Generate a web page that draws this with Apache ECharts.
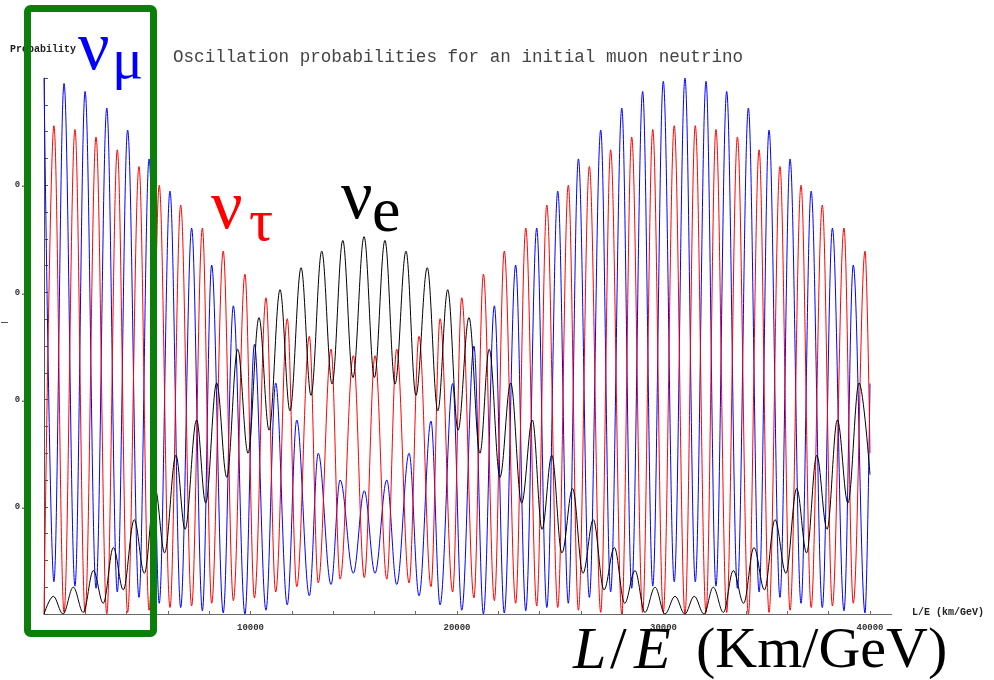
<!DOCTYPE html>
<html><head><meta charset="utf-8">
<script src="https://cdn.jsdelivr.net/npm/echarts@6/dist/echarts.min.js"></script>
<style>html,body{margin:0;padding:0;background:#fff}#c{width:994px;height:680px}</style>
</head><body><div id="c"></div>
<script>
// x positions (km/GeV) of the extrema of the nu_mu and nu_tau curves
const extremaX = [0, 480, 970, 1500, 1990, 2520, 3040, 3550, 4050, 4600, 5090, 5580, 6100, 6620, 7150, 7670, 8120, 8680, 9170, 9730,
  10190, 10750, 11220, 11780, 12240, 12850, 13280, 13900, 14340, 14980, 15510, 16030, 16600, 17080, 17680, 18160, 18740, 19180, 19790, 20230,
  20820, 21280, 21810, 22290, 22840, 23330, 23860, 24350, 24880, 25390, 25880, 26410, 26960, 27440, 27980, 28460, 28990, 29480, 29990, 30520,
  31040, 31540, 32060, 32540, 33060, 33580, 34110, 34630, 35110, 35640, 36130, 36660, 37150, 37690, 38180, 38740, 39190, 39760, 40000];
// P(nu_mu -> nu_mu), blue
const muSurvival = [1.0, 0.06, 0.99, 0.052, 0.975, 0.048, 0.944, 0.041, 0.903, 0.031, 0.849, 0.02, 0.789, 0.012, 0.72, 0.006, 0.651, 0.002, 0.575, 0.0,
  0.503, 0.007, 0.431, 0.017, 0.362, 0.034, 0.30, 0.055, 0.25, 0.076, 0.23, 0.076, 0.25, 0.055, 0.30, 0.034, 0.36, 0.017, 0.43, 0.007,
  0.50, 0.0, 0.575, 0.002, 0.651, 0.006, 0.72, 0.012, 0.789, 0.02, 0.849, 0.031, 0.903, 0.041, 0.944, 0.048, 0.975, 0.052, 0.994, 0.06,
  1.0, 0.06, 0.994, 0.052, 0.975, 0.048, 0.944, 0.041, 0.903, 0.031, 0.849, 0.02, 0.789, 0.012, 0.72, 0.006, 0.651, 0.002, 0.43];
// P(nu_mu -> nu_tau), red
const tauAppearance = [0, 0.911, 0.003, 0.904, 0.003, 0.89, 0.0, 0.866, 0.003, 0.835, 0.007, 0.80, 0.012, 0.763, 0.015, 0.72, 0.02, 0.677, 0.025, 0.634,
  0.03, 0.59, 0.041, 0.551, 0.051, 0.518, 0.058, 0.494, 0.065, 0.482, 0.068, 0.482, 0.065, 0.494, 0.058, 0.518, 0.051, 0.551, 0.041, 0.59,
  0.03, 0.634, 0.025, 0.677, 0.02, 0.72, 0.015, 0.763, 0.012, 0.80, 0.007, 0.835, 0.003, 0.866, 0.0, 0.89, 0.003, 0.904, 0.003, 0.911,
  0.0, 0.911, 0.003, 0.904, 0.003, 0.89, 0.0, 0.866, 0.003, 0.835, 0.007, 0.80, 0.012, 0.763, 0.015, 0.72, 0.02, 0.677, 0.30];
// x positions of the extrema of the nu_e curve
const eX = [0, 450, 920, 1420, 1900, 2390, 2870, 3360, 3840, 4370, 4860, 5380, 5840, 6390, 6830, 7390, 7830, 8360, 8850, 9380,
  9880, 10410, 10900, 11430, 11910, 12450, 12930, 13450, 13950, 14470, 14960, 15500, 16000, 16510, 17000, 17530, 18010, 18560, 19070, 19550,
  20050, 20580, 21110, 21560, 22080, 22600, 23130, 23650, 24120, 24590, 25080, 25600, 26100, 26600, 27120, 27620, 28120, 28620, 29100, 29590,
  30070, 30560, 31030, 31490, 31960, 32410, 32900, 33380, 33880, 34380, 34890, 35400, 35930, 36450, 36930, 37420, 37920, 38420, 38930, 39470, 40000];
// P(nu_mu -> nu_e), black
const eAppearance = [0, 0.033, 0, 0.05, 0.003, 0.081, 0.02, 0.124, 0.045, 0.176, 0.076, 0.234, 0.114, 0.296, 0.158, 0.362, 0.207, 0.431, 0.255, 0.494,
  0.30, 0.553, 0.343, 0.605, 0.379, 0.646, 0.408, 0.677, 0.429, 0.697, 0.441, 0.704, 0.441, 0.697, 0.429, 0.677, 0.408, 0.646, 0.379, 0.605,
  0.343, 0.553, 0.30, 0.494, 0.255, 0.431, 0.207, 0.362, 0.158, 0.296, 0.114, 0.234, 0.076, 0.176, 0.045, 0.124, 0.02, 0.081, 0.003, 0.05,
  0, 0.033, 0, 0.033, 0, 0.05, 0.003, 0.081, 0.02, 0.124, 0.045, 0.176, 0.076, 0.234, 0.114, 0.296, 0.158, 0.362, 0.207, 0.431, 0.26];
const xTickLabels = [10000, 20000, 30000, 40000];
const yTickLabels = [0.2, 0.4, 0.6, 0.8];
const titleText = 'Oscillation probabilities for an initial muon neutrino';

const zip = (xs, ys) => xs.map((x, i) => [x, ys[i]]);
const chart = echarts.init(document.getElementById('c'), null, {renderer: 'canvas'});
const mono = '"Liberation Mono", "Courier New", monospace';
const serif = '"Liberation Serif", "DejaVu Serif", serif';
const lineSeries = (name, xs, ys, color) => ({
  name, type: 'line', data: zip(xs, ys), showSymbol: false, symbol: 'none',
  smooth: 0.363, smoothMonotone: 'x', animation: false,
  lineStyle: {color, width: 1}, z: 2
});
const txt = (x, y, text, font, fill) => ({type: 'text', x, y, z: 10, z2: 10,
  style: {text, font, fill, verticalAlign: 'middle'}});
chart.setOption({
  animation: false,
  backgroundColor: '#fff',
  grid: {left: 44, right: 124, top: 78, bottom: 66, containLabel: false, outerBoundsMode: 'none'},
  xAxis: {
    type: 'value', min: 0, max: 40000, interval: 2000,
    axisLine: {show: true, lineStyle: {color: '#6a6a6a', width: 1}},
    axisTick: {show: true, inside: true, length: 3, lineStyle: {color: '#6a6a6a'}},
    axisLabel: {margin: 9, color: '#333', fontFamily: mono, fontSize: 9, fontWeight: 'bold',
      formatter: v => xTickLabels.includes(v) ? String(v) : ''},
    splitLine: {show: false}
  },
  yAxis: {
    type: 'value', min: 0, max: 1, interval: 0.05,
    axisLine: {show: true, lineStyle: {color: '#555', width: 1}},
    axisTick: {show: true, inside: true, length: 4, lineStyle: {color: '#555'}},
    axisLabel: {margin: 13, color: '#333', fontFamily: mono, fontSize: 9, fontWeight: 'bold',
      formatter: v => { const r = Math.round(v * 100) / 100; return yTickLabels.includes(r) ? r.toFixed(1) : ''; }},
    splitLine: {show: false}
  },
  series: [
    lineSeries('numu', extremaX, muSurvival, '#0000ff'),
    lineSeries('nutau', extremaX, tauAppearance, '#ff0000'),
    lineSeries('nue', eX, eAppearance, '#000000')
  ],
  graphic: [
    {type: 'line', shape: {x1: 870, y1: 614.5, x2: 892, y2: 614.5}, style: {stroke: '#6a6a6a', lineWidth: 1}, z: 5},
    {type: 'line', shape: {x1: 1, y1: 322.5, x2: 8, y2: 322.5}, style: {stroke: '#555', lineWidth: 1}, z: 5},
    {type: 'text', x: 173, y: 57, z: 5, style: {text: titleText, font: '17.6px ' + mono, fill: '#444', verticalAlign: 'middle'}},
    {type: 'text', x: 10, y: 49, z: 5, style: {text: 'Probability', font: 'bold 10px ' + mono, fill: '#222', verticalAlign: 'middle'}},
    {type: 'text', x: 912, y: 612, z: 5, style: {text: 'L/E (km/GeV)', font: 'bold 10px ' + mono, fill: '#222', verticalAlign: 'middle'}},
    txt(78, 51, 'ν', '70px ' + serif, '#0000ff'),
    txt(112, 63, 'μ', '58px ' + serif, '#0000ff'),
    txt(211, 210, 'ν', '70px ' + serif, '#ff0000'),
    txt(249, 224, 'τ', '60px ' + serif, '#ff0000'),
    txt(341, 200, 'ν', '70px ' + serif, '#000000'),
    txt(372, 214, 'e', '64px ' + serif, '#000000'),
    txt(573, 652, 'L', 'italic 60px ' + serif, '#000'),
    txt(610, 652, '/', '60px ' + serif, '#000'),
    txt(634, 652, 'E', 'italic 60px ' + serif, '#000'),
    txt(696, 652, '(Km/GeV)', '58px ' + serif, '#000'),
    {type: 'rect', zlevel: 1, z: 20, z2: 20, shape: {x: 27.5, y: 8.5, width: 126, height: 625, r: 3}, style: {fill: 'none', stroke: '#0a800a', lineWidth: 7}}
  ]
});
</script>
</body></html>
